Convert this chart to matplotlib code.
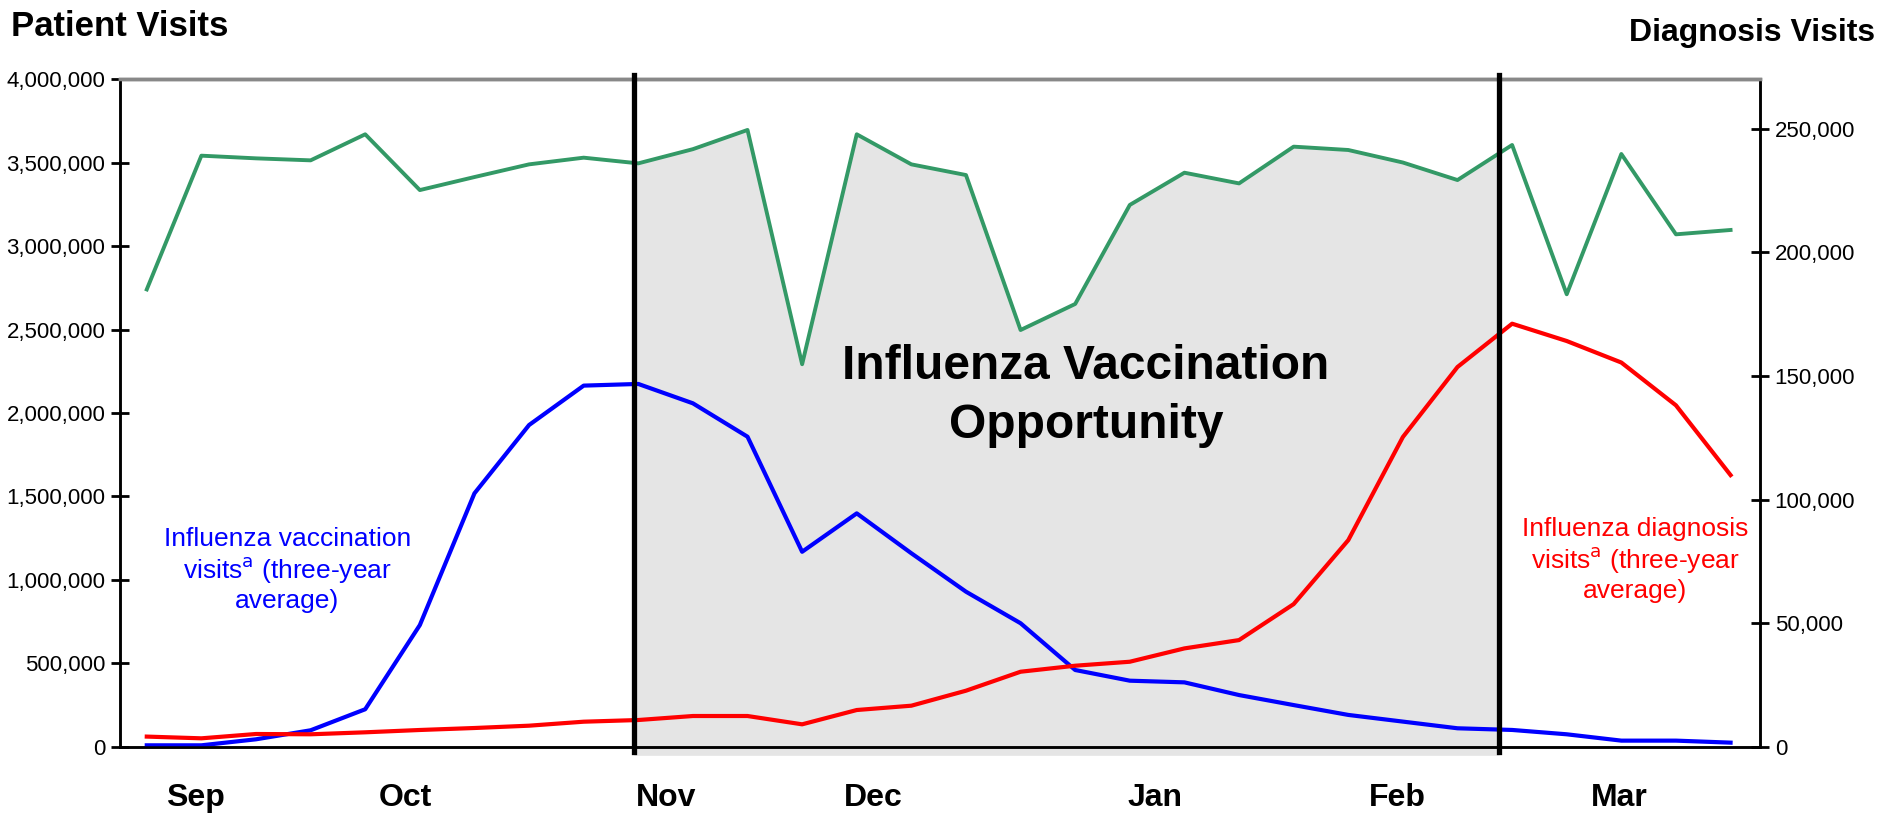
import numpy as np
import matplotlib.pyplot as plt
from matplotlib.ticker import FuncFormatter

# weekly points, Sep through Mar
weeks = np.arange(30)

# all patient visits (left axis)
patient_visits = [2740000, 3541000, 3525000, 3513000, 3669000, 3335000, 3413000, 3489000,
                  3529000, 3495000, 3580000, 3695000, 2292000, 3669000, 3489000, 3425000,
                  2497000, 2653000, 3246000, 3439000, 3375000, 3595000, 3575000, 3500000,
                  3395000, 3605000, 2711000, 3551000, 3070000, 3096000]

# influenza vaccination visits (left axis)
vacc_visits = [10000, 10000, 46000, 100000, 226000, 730000, 1519000, 1928000,
               2164000, 2174000, 2058000, 1858000, 1169000, 1399000, 1160000, 930000,
               741000, 461000, 397000, 387000, 311000, 251000, 192000, 152000,
               112000, 102000, 76000, 38000, 38000, 26000]

# influenza diagnosis visits (right axis)
diag_visits = [4200, 3500, 5250, 5130, 5930, 6870, 7670, 8610, 10220, 10900,
               12520, 12520, 9160, 14940, 16690, 22750, 30420, 32850, 34460, 39850,
               43210, 57750, 83600, 125300, 153600, 171100, 164100, 155400, 138100, 109900]

months = ['Sep', 'Oct', 'Nov', 'Dec', 'Jan', 'Feb', 'Mar']
month_pos = [0.89, 4.74, 9.5, 13.3, 18.46, 22.9, 26.97]

# vaccination opportunity window (in week units)
window_start = 8.92
window_end = 24.76

plt.rcParams['font.family'] = ['Liberation Sans', 'DejaVu Sans']

fig = plt.figure(figsize=(18.81, 8.13), dpi=100)
ax = fig.add_axes([0.0638, 0.0812, 0.8719, 0.8216])
ax2 = ax.twinx()

# shaded opportunity area under the green line
xs = np.linspace(window_start, window_end, 400)
ax.fill_between(xs, -50000, np.interp(xs, weeks, patient_visits),
                color='#e5e5e5', lw=0, zorder=1, clip_on=False)

ax.plot(weeks, patient_visits, color='#339966', lw=2.8, zorder=3)
ax.plot(weeks, vacc_visits, color='#0000ff', lw=3, zorder=3)
ax2.plot(weeks, diag_visits, color='#ff0000', lw=3, zorder=3)

for xv in (window_start, window_end):
    ax2.axvline(xv, ymin=-0.008, ymax=1.006, color='black', lw=3.8, clip_on=False, zorder=4)

ax.set_xlim(-0.49, 29.54)
ax.set_ylim(0, 4000000)
ax2.set_ylim(0, 270000)
ax.set_yticks(np.arange(0, 4000001, 500000))
ax2.set_yticks(np.arange(0, 250001, 50000))
fmt = FuncFormatter(lambda v, p: f'{int(v):,}')
ax.yaxis.set_major_formatter(fmt)
ax2.yaxis.set_major_formatter(fmt)

ax.set_xticks(month_pos)
ax.set_xticklabels(months, fontsize=23, fontweight='bold')
ax.tick_params(axis='x', length=0, pad=26)

for a in (ax, ax2):
    a.tick_params(axis='y', direction='inout', length=13, width=2, labelsize=16, pad=4)
    for side in ('left', 'right', 'bottom'):
        a.spines[side].set_linewidth(1.8)
        a.spines[side].set_color('black')
    a.spines['top'].set_color('#888888')
    a.spines['top'].set_linewidth(2.5)

ax.patch.set_visible(False)

fig.text(0.006, 0.968, 'Patient Visits', fontsize=25, fontweight='bold', ha='left', va='center')
fig.text(0.997, 0.96, 'Diagnosis Visits', fontsize=23, fontweight='bold', ha='right', va='center')

ax.text(17.2, 2100000, 'Influenza Vaccination\nOpportunity', fontsize=34.5, fontweight='bold',
        ha='center', va='center', linespacing=1.4, zorder=5)

ax.text(2.57, 1060000, 'Influenza vaccination\nvisits$^{\\mathrm{a}}$ (three-year\naverage)',
        color='#0000ff', fontsize=19, ha='center', va='center', linespacing=1.2)
ax.text(27.25, 1120000, 'Influenza diagnosis\nvisits$^{\\mathrm{a}}$ (three-year\naverage)',
        color='#ff0000', fontsize=19, ha='center', va='center', linespacing=1.2)

fig.savefig('out.png', dpi=100)
